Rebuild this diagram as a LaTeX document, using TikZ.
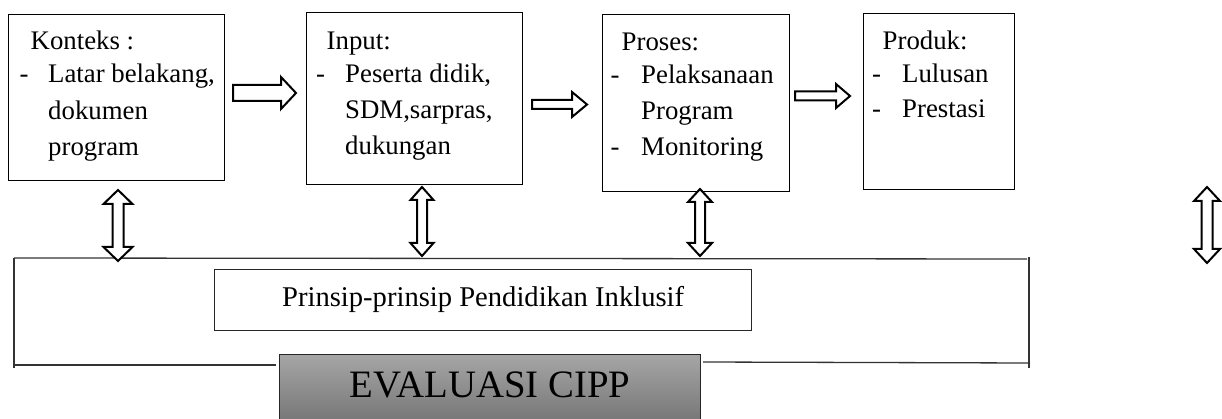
\documentclass[tikz,border=0pt]{standalone}
\usepackage{fontspec}
\setmainfont{Liberation Serif}
\newcommand\harrowshape[6]{% x1 x2 yc shafthalf headhalf headlen
  \draw[blockarrow] (#1,{#3-#4}) -- ({#2-#6},{#3-#4}) -- ({#2-#6},{#3-#5}) -- (#2,#3) -- ({#2-#6},{#3+#5}) -- ({#2-#6},{#3+#4}) -- (#1,{#3+#4}) -- cycle;}
\newcommand\vdblarrowshape[6]{% xc y1 y2 shafthalf headhalf headlen
  \draw[blockarrow] (#1,#2) -- ({#1+#5},{#2+#6}) -- ({#1+#4},{#2+#6}) -- ({#1+#4},{#3-#6}) -- ({#1+#5},{#3-#6}) -- (#1,#3) -- ({#1-#5},{#3-#6}) -- ({#1-#4},{#3-#6}) -- ({#1-#4},{#2+#6}) -- ({#1-#5},{#2+#6}) -- cycle;}
\begin{document}
\begin{tikzpicture}[x=1pt,y=-1pt,
  box/.style={draw=black, line width=1.1pt, inner sep=0pt, anchor=north west},
  txt/.style={inner sep=0pt, anchor=base west, font=\fontsize{26.8}{30}\selectfont},
  blockarrow/.style={draw=black, fill=white, line width=2pt, line join=miter, miter limit=10},
  bracketline/.style={draw=black!80, line width=1.3pt},
]
\useasboundingbox (0,0) rectangle (1222,419);
\clip (0,0) rectangle (1222,419);

% bracket
\draw[bracketline] (14,258) -- (1027,259);
\draw[bracketline] (14,258) -- (14,368);
\draw[bracketline] (13,365) -- (276,365);
\draw[bracketline] (703,362) -- (1030,363);
\draw[bracketline] (1029,257) -- (1029,368);

% boxes
\node[box, minimum width=216pt, minimum height=166pt] (konteks) at (8,14) {};
\node[box, minimum width=216pt, minimum height=172pt] (input) at (306,12) {};
\node[box, minimum width=187pt, minimum height=177pt] (proses) at (602,14) {};
\node[box, minimum width=151pt, minimum height=176pt] (produk) at (863,13) {};

% Konteks
\node[txt] (k0) at (30.5,50) {Konteks :};
\node[txt] (k1d) at (19.5,83) {-};
\node[txt] (k1) at (48,83) {Latar belakang,};
\node[txt] (k2) at (48,119.5) {dokumen};
\node[txt] (k3) at (48,155.5) {program};
% Input
\node[txt] (i0) at (326.5,50) {Input:};
\node[txt] (i1d) at (316,83) {-};
\node[txt] (i1) at (345,83) {Peserta didik,};
\node[txt] (i2) at (345,119) {SDM,sarpras,};
\node[txt] (i3) at (345,155) {dukungan};
% Proses
\node[txt] (p0) at (621.5,51) {Proses:};
\node[txt] (p1d) at (610.5,84) {-};
\node[txt] (p1) at (641,84) {Pelaksanaan};
\node[txt] (p2) at (641,120) {Program};
\node[txt] (p3d) at (610.5,156) {-};
\node[txt] (p3) at (641,156) {Monitoring};
% Produk
\node[txt] (r0) at (882.5,49.5) {Produk:};
\node[txt] (r1d) at (872,82.5) {-};
\node[txt] (r1) at (902,82.5) {Lulusan};
\node[txt] (r2d) at (872,117.5) {-};
\node[txt] (r2) at (902,117.5) {Prestasi};

% Prinsip box
\node[draw=black!85, line width=1.3pt, anchor=north west, minimum width=537pt, inner sep=0pt,
      text height=37pt, text depth=24pt, font=\fontsize{28.6}{32}\selectfont] (prinsip) at (214,269)
      {Prinsip-prinsip Pendidikan Inklusif};

% Evaluasi box
\node[draw=black!85, line width=1.2pt, top color=black!35, bottom color=black!58, anchor=north west,
      minimum width=421pt, inner sep=0pt, text height=43pt, text depth=40pt,
      font=\fontsize{38.8}{42}\selectfont] (eval) at (279,354) {EVALUASI CIPP};

% horizontal block arrows
\harrowshape{233}{296}{93}{8}{16}{15}
\harrowshape{532}{587}{104.5}{4.5}{12.5}{15}
\harrowshape{795}{850}{96}{4.5}{12}{14}

% vertical double block arrows
\vdblarrowshape{118}{190}{261}{5.5}{14.5}{14}
\vdblarrowshape{422}{187}{256}{5}{11.5}{13}
\vdblarrowshape{700}{189}{256}{5}{12}{13}
\vdblarrowshape{1207}{187}{263}{5.5}{13}{14}
\end{tikzpicture}
\end{document}
